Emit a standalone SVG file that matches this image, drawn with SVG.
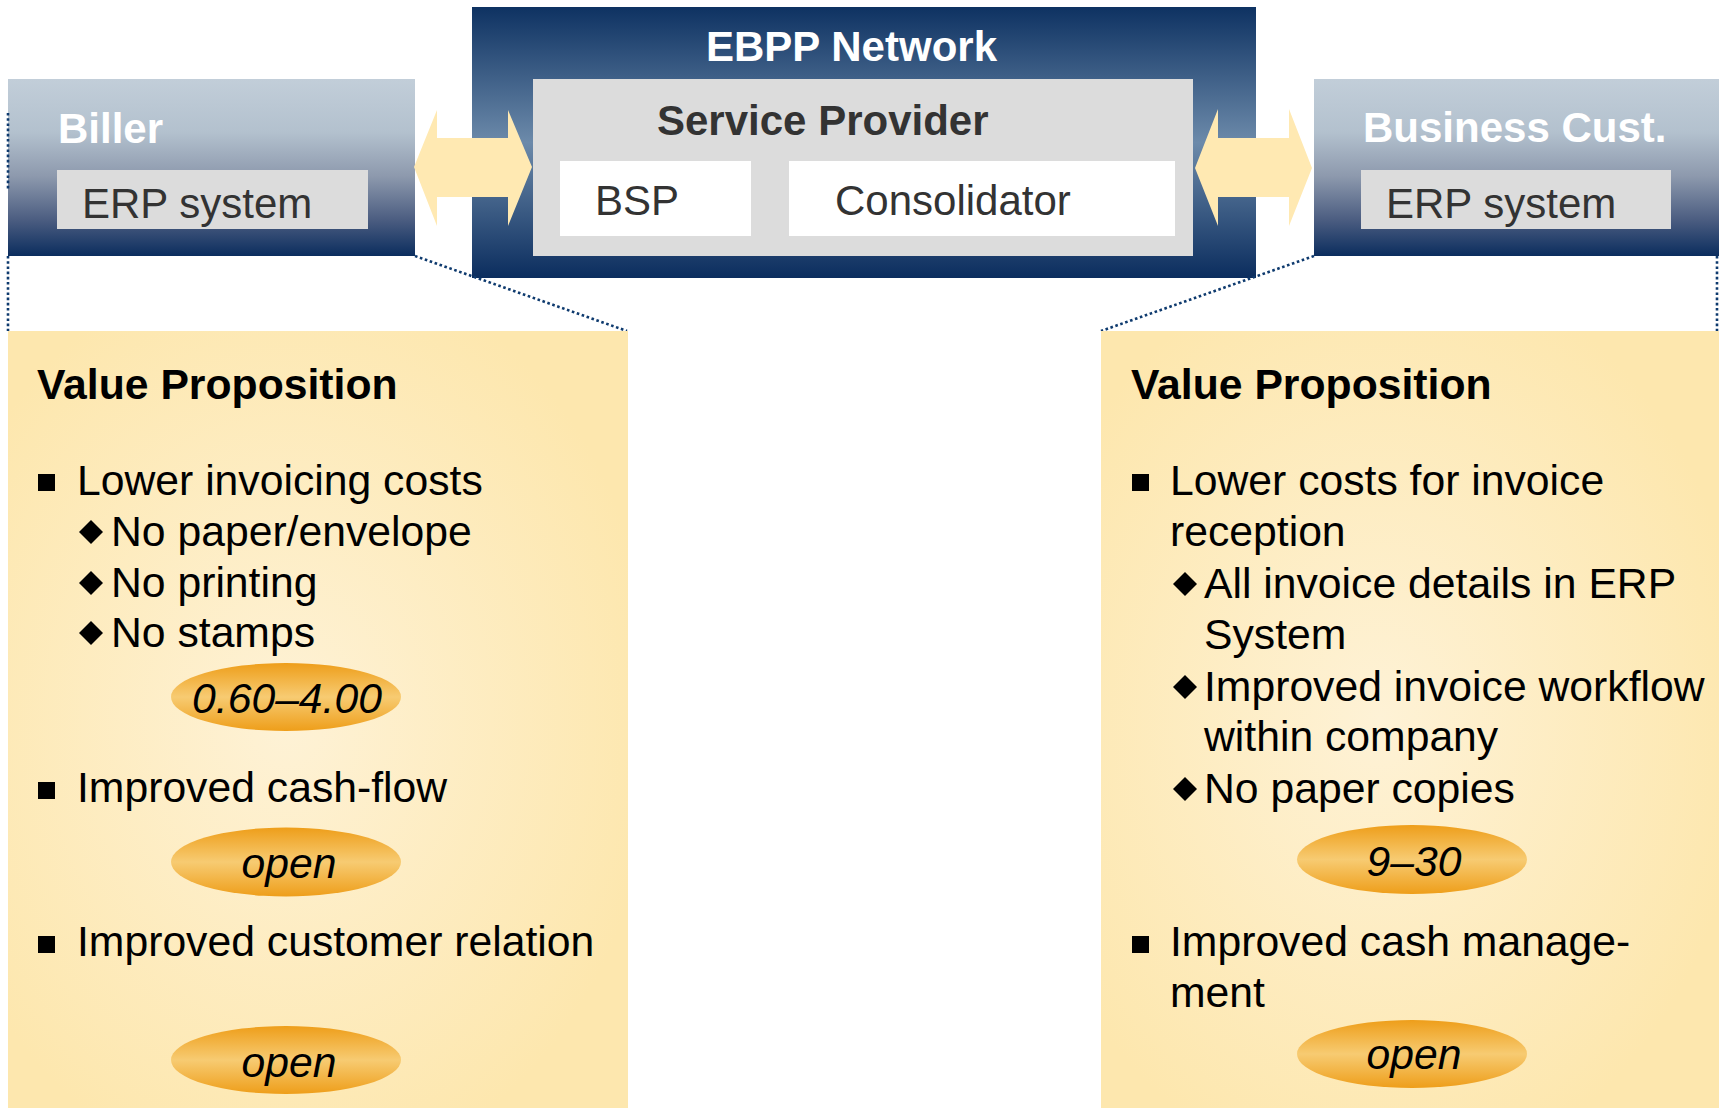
<svg xmlns="http://www.w3.org/2000/svg" width="1719" height="1109" viewBox="0 0 1719 1109">
<defs>
<linearGradient id="gSide" x1="0" y1="0" x2="0" y2="1">
<stop offset="0" stop-color="#C2CED9"/>
<stop offset="0.3" stop-color="#B3C1CE"/>
<stop offset="0.55" stop-color="#8D99AD"/>
<stop offset="0.8" stop-color="#4A5C80"/>
<stop offset="1" stop-color="#0B2D5E"/>
</linearGradient>
<linearGradient id="gNet" x1="0" y1="0" x2="0" y2="1">
<stop offset="0" stop-color="#0E3262"/>
<stop offset="0.5" stop-color="#6C8AAA"/>
<stop offset="1" stop-color="#0B2D5E"/>
</linearGradient>
<radialGradient id="gPanel" cx="0.45" cy="0.5" r="0.6">
<stop offset="0" stop-color="#FEF2D6"/>
<stop offset="1" stop-color="#FDE7AE"/>
</radialGradient>
<linearGradient id="gOval" x1="0" y1="0" x2="0" y2="1">
<stop offset="0" stop-color="#EE9E1A"/>
<stop offset="0.5" stop-color="#F7CB72"/>
<stop offset="1" stop-color="#EE9E1A"/>
</linearGradient>
<polygon id="dia" points="0,-12 12,0 0,12 -12,0"/>
</defs>
<style>
text{font-family:"Liberation Sans",Arial,sans-serif;font-size:42px}
.p{font-size:42.7px}
.b{font-weight:bold}
.w{fill:#FFFFFF}
.g{fill:#333333}
.k{fill:#000000}
.i{font-style:italic;text-anchor:middle}
.gray{fill:#DCDCDC}
.white{fill:#FFFFFF}
.arrow{fill:#FFE9B2}
.dot{fill:none;stroke:#0E3A6E;stroke-width:2.6;stroke-dasharray:2.6 2.6}
.oval{fill:url(#gOval)}
.panel{fill:url(#gPanel)}
</style>

<g id="ebpp-network">
<rect x="472" y="7" width="784" height="271" fill="url(#gNet)"/>
<text x="706" y="61" class="b w">EBPP Network</text>
</g>

<g id="service-provider">
<rect x="533" y="79" width="660" height="177" class="gray"/>
<text x="657" y="135" class="b g">Service Provider</text>
</g>

<g id="bsp">
<rect x="560" y="161" width="191" height="75" class="white"/>
<text x="595" y="215" class="g">BSP</text>
</g>

<g id="consolidator">
<rect x="789" y="161" width="386" height="75" class="white"/>
<text x="835" y="215" class="g">Consolidator</text>
</g>

<g id="biller">
<rect x="8" y="79" width="407" height="177" fill="url(#gSide)"/>
<text x="58" y="143" class="b w">Biller</text>
<rect x="57" y="170" width="311" height="59" class="gray"/>
<text x="82" y="218" class="g">ERP system</text>
</g>

<g id="business-cust">
<rect x="1314" y="79" width="405" height="177" fill="url(#gSide)"/>
<text x="1363" y="142" class="b w">Business Cust.</text>
<rect x="1361" y="170" width="310" height="59" class="gray"/>
<text x="1386" y="218" class="g">ERP system</text>
</g>

<g id="connectors">
<polygon class="arrow" points="414,167 437,110 437,138 508,138 508,110 532,167 508,226 508,197 437,197 437,226"/>
<polygon class="arrow" points="1195,168 1218,109 1218,138 1289,138 1289,109 1312,168 1289,226 1289,197 1218,197 1218,226"/>
<line class="dot" x1="8" y1="113" x2="8" y2="190"/>
<line class="dot" x1="8" y1="256" x2="8" y2="331"/>
<line class="dot" x1="415" y1="256" x2="627" y2="331"/>
<line class="dot" x1="1314" y1="256" x2="1101" y2="331"/>
<line class="dot" x1="1717" y1="256" x2="1717" y2="331"/>
</g>

<g id="value-biller">
<rect x="8" y="331" width="620" height="777" class="panel"/>
<text x="37" y="399" class="p b k">Value Proposition</text>
<rect x="38" y="474" width="17" height="17" class="k"/>
<text x="77" y="495" class="p k">Lower invoicing costs</text>
<use href="#dia" x="91" y="532"/>
<text x="111" y="546" class="p k">No paper/envelope</text>
<use href="#dia" x="91" y="583"/>
<text x="111" y="597" class="p k">No printing</text>
<use href="#dia" x="91" y="633"/>
<text x="111" y="647" class="p k">No stamps</text>
<ellipse cx="286" cy="697" rx="115" ry="34" class="oval"/>
<text x="287" y="713" class="p i k">0.60–4.00</text>
<rect x="38" y="782" width="17" height="17" class="k"/>
<text x="77" y="802" class="p k">Improved cash-flow</text>
<ellipse cx="286" cy="862" rx="115" ry="34.5" class="oval"/>
<text x="289" y="878" class="p i k">open</text>
<rect x="38" y="936" width="17" height="17" class="k"/>
<text x="77" y="956" class="p k">Improved customer relation</text>
<ellipse cx="286" cy="1060" rx="115" ry="34" class="oval"/>
<text x="289" y="1077" class="p i k">open</text>
</g>

<g id="value-customer">
<rect x="1101" y="331" width="618" height="777" class="panel"/>
<text x="1131" y="399" class="p b k">Value Proposition</text>
<rect x="1132" y="474" width="17" height="17" class="k"/>
<text x="1170" y="495" class="p k">Lower costs for invoice</text>
<text x="1170" y="546" class="p k">reception</text>
<use href="#dia" x="1185" y="584"/>
<text x="1204" y="598" class="p k">All invoice details in ERP</text>
<text x="1204" y="649" class="p k">System</text>
<use href="#dia" x="1185" y="687"/>
<text x="1204" y="701" class="p k">Improved invoice workflow</text>
<text x="1204" y="751" class="p k">within company</text>
<use href="#dia" x="1185" y="789"/>
<text x="1204" y="803" class="p k">No paper copies</text>
<ellipse cx="1412" cy="859.5" rx="115" ry="34.5" class="oval"/>
<text x="1414" y="876" class="p i k">9–30</text>
<rect x="1132" y="936" width="17" height="17" class="k"/>
<text x="1170" y="956" class="p k">Improved cash manage-</text>
<text x="1170" y="1007" class="p k">ment</text>
<ellipse cx="1412" cy="1054" rx="115" ry="34" class="oval"/>
<text x="1414" y="1069" class="p i k">open</text>
</g>
</svg>
